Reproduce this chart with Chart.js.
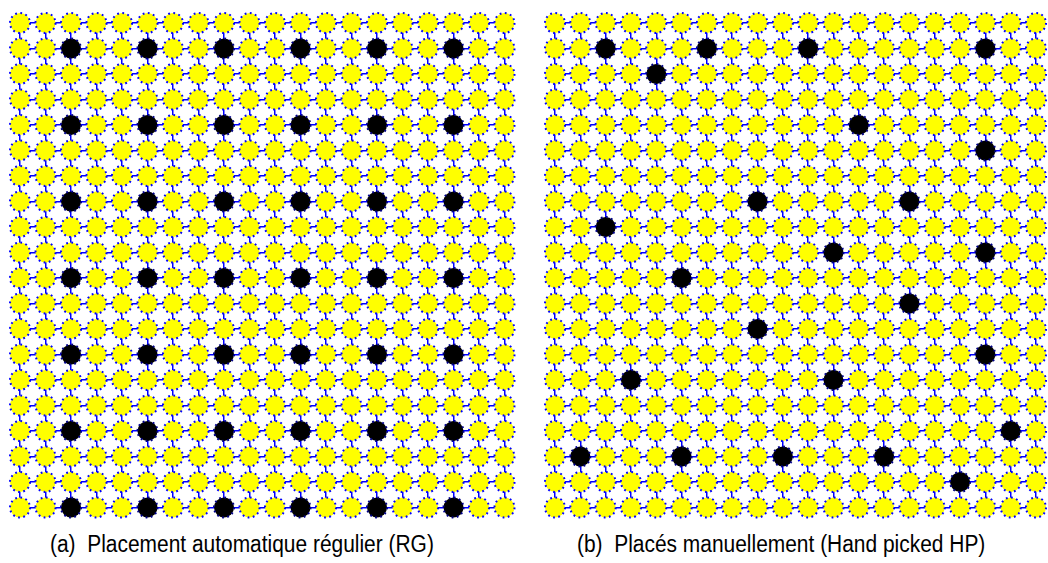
<!DOCTYPE html>
<html>
<head>
<meta charset="utf-8">
<script src="https://cdn.jsdelivr.net/npm/chart.js@4.4.1/dist/chart.umd.min.js"></script>
<style>
  body { margin: 0; background: #fff; width: 1048px; height: 563px; overflow: hidden; position: relative; }
  canvas { position: absolute; top: 0; }
  #c1 { left: 0; }
  #c2 { left: 524px; }
  .cap { position: absolute; top: 531px; font-family: "Liberation Sans", Arial, sans-serif; font-size: 23px; color: #000; white-space: pre; transform: scaleX(0.91); transform-origin: left center; }
</style>
</head>
<body>
<canvas id="c1" width="524" height="530"></canvas>
<canvas id="c2" width="524" height="530"></canvas>
<div class="cap" id="capA" style="left:50px"></div>
<div class="cap" id="capB" style="left:577px"></div>
<script>
// grid of 20 x 20 sensor positions
const gridN = 20
const captions = ['(a)  Placement automatique régulier (RG)', '(b)  Placés manuellement (Hand picked HP)']

// (a) regular placement: black on these columns / rows
const rgCols = [3, 6, 9, 12, 15, 18]
const rgRows = [2, 5, 8, 11, 14, 17, 20]

// (b) hand picked placement
const hpCols = [3, 7, 11, 18, 5, 13, 18, 9, 15, 3, 12, 18, 6, 15, 9, 18, 4, 12, 19, 2, 6, 10, 14, 17]
const hpRows = [2, 2, 2, 2, 3, 5, 6, 8, 8, 9, 10, 10, 11, 12, 13, 14, 15, 15, 17, 18, 18, 18, 18, 19]

const yellow = '#ffff00'
const black = '#000000'
const blue = '#0000ff'

const makePoints = (blackList) => {
    const on = new Set(blackList.map(p => p.x + ',' + p.y))
    const free = [], taken = []
    for (let r = 1; r <= gridN; r++) {
        for (let c = 1; c <= gridN; c++) {
            if (on.has(c + ',' + r)) taken.push({x: c, y: r})
            else free.push({x: c, y: r})
        }
    }
    return [free, taken]
}

// dotted outline on every circle
const dotted = {
    id: 'dotted',
    beforeDatasetsDraw(chart) {
        chart.ctx.save()
        chart.ctx.setLineDash([1.8, 3.44])
    },
    afterDatasetsDraw(chart) {
        chart.ctx.restore()
    }
}

const renderGrid = (id, blackList, pad) => {
    const [free, taken] = makePoints(blackList)
    const axis = {
        type: 'linear', min: 1, max: gridN,
        ticks: {display: false, stepSize: 1},
        grid: {color: blue, lineWidth: 1.5, drawTicks: false},
        border: {display: false}
    }
    new Chart(document.getElementById(id), {
        type: 'scatter',
        data: {
            datasets: [
                {data: free, backgroundColor: yellow, borderColor: blue, borderWidth: 2, pointRadius: 10, pointHoverRadius: 10, clip: false},
                {data: taken, backgroundColor: black, borderColor: '#000088', borderWidth: 2, pointRadius: 10, pointHoverRadius: 10, clip: false}
            ]
        },
        options: {
            responsive: false,
            animation: false,
            layout: {padding: pad},
            plugins: {legend: {display: false}, tooltip: {enabled: false}},
            scales: {
                x: axis,
                y: Object.assign({}, axis, {reverse: true})
            }
        },
        plugins: [dotted]
    })
}

const rgList = []
rgRows.forEach(r => rgCols.forEach(c => rgList.push({x: c, y: r})))
const hpList = hpCols.map((c, i) => ({x: c, y: hpRows[i]}))

document.getElementById('capA').textContent = captions[0]
document.getElementById('capB').textContent = captions[1]

renderGrid('c1', rgList, {left: 20, right: 19.5, top: 23, bottom: 22.5})
renderGrid('c2', hpList, {left: 31, right: 8.5, top: 23, bottom: 22.5})
</script>
</body>
</html>
